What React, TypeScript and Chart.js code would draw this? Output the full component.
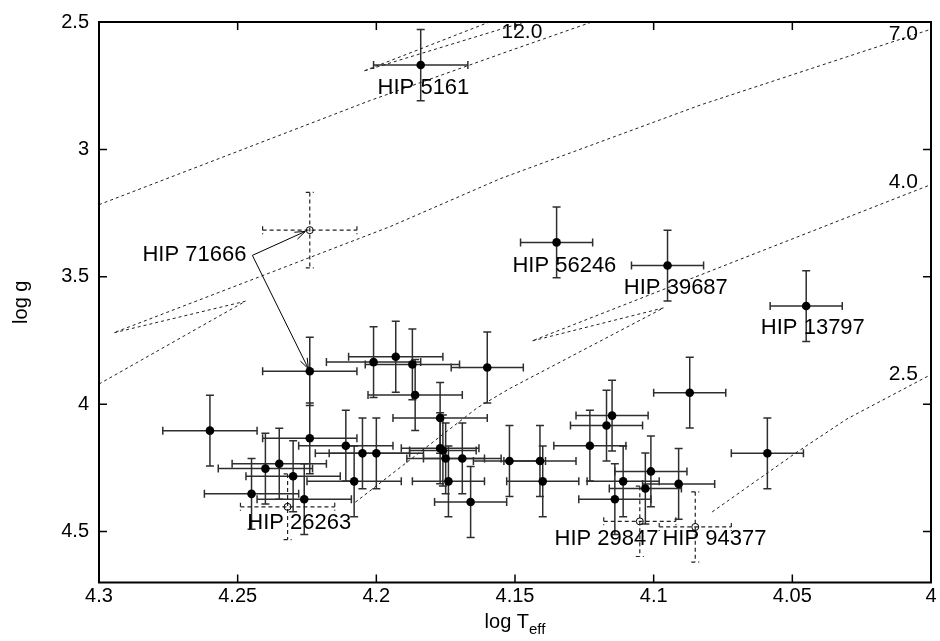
import React, { useEffect, useRef } from 'react';
import { Chart, registerables } from 'chart.js';

Chart.register(...registerables);

// ---- axes ----
const xTicks = [4.3, 4.25, 4.2, 4.15, 4.1, 4.05, 4.0];
const xTickLabels = ['4.3', '4.25', '4.2', '4.15', '4.1', '4.05', '4'];
const yTicks = [2.5, 3, 3.5, 4, 4.5];
const yTickLabels = ['2.5', '3', '3.5', '4', '4.5'];

// ---- stars with filled symbols (log Teff, log g, errors) ----
const starLogT = [
  4.184, 4.135, 4.095, 4.045, 4.224, 4.260, 4.224, 4.211, 4.205, 4.200,
  4.240, 4.235, 4.230, 4.245, 4.226, 4.208, 4.201, 4.193, 4.187, 4.186,
  4.177, 4.177, 4.176, 4.175, 4.169, 4.174, 4.166, 4.160, 4.152, 4.141,
  4.140, 4.087, 4.059, 4.115, 4.117, 4.123, 4.101, 4.111, 4.091, 4.103,
  4.114,
];
const starLogG = [
  2.669, 3.365, 3.456, 3.615, 3.871, 4.104, 4.134, 4.163, 4.193, 4.193,
  4.253, 4.234, 4.283, 4.352, 4.373, 4.303, 3.835, 3.814, 3.844, 3.964,
  4.054, 4.173, 4.182, 4.213, 4.213, 4.303, 4.384, 3.856, 4.223, 4.223,
  4.303, 3.955, 4.193, 4.045, 4.084, 4.163, 4.264, 4.303, 4.313, 4.331,
  4.373,
];
const starErrT = [
  0.017, 0.013, 0.013, 0.013, 0.017, 0.017, 0.017, 0.017, 0.017, 0.017,
  0.017, 0.017, 0.017, 0.017, 0.017, 0.017, 0.017, 0.017, 0.017, 0.017,
  0.017, 0.014, 0.012, 0.014, 0.014, 0.013, 0.013, 0.013, 0.013, 0.013,
  0.013, 0.013, 0.013, 0.013, 0.013, 0.013, 0.013, 0.013, 0.013, 0.013,
  0.013,
];
const starErrG = [
  0.14, 0.139, 0.139, 0.139, 0.134, 0.139, 0.139, 0.139, 0.139, 0.139,
  0.139, 0.139, 0.139, 0.139, 0.139, 0.139, 0.139, 0.139, 0.139, 0.139,
  0.139, 0.139, 0.139, 0.139, 0.139, 0.139, 0.139, 0.139, 0.139, 0.139,
  0.139, 0.139, 0.139, 0.139, 0.139, 0.139, 0.139, 0.139, 0.139, 0.139,
  0.139,
];

// ---- stars with open symbols ----
const openLogT = [4.224, 4.232, 4.105, 4.085];
const openLogG = [3.317, 4.403, 4.460, 4.482];
const openErrT = [0.017, 0.017, 0.013, 0.013];
const openErrG = [0.148, 0.129, 0.138, 0.138];

// ---- evolutionary tracks ----
const track12T = [4.300, 4.2022, 4.1553, 4.1228, 4.119];
const track12G = [3.217, 2.808, 2.626, 2.502, 2.488];
const track12bT = [4.143, 4.2047, 4.1585];
const track12bG = [2.488, 2.693, 2.497];
const track7T = [4.300, 4.2472, 4.2947, 4.195, 4.1553, 4.0832, 4.0002, 3.998];
const track7G = [3.921, 3.596, 3.720, 3.303, 3.115, 2.826, 2.529, 2.522];
const track4T = [4.2076, 4.1637, 4.1523, 4.0964, 4.1439, 4.0002, 3.998];
const track4G = [4.385, 4.015, 3.941, 3.622, 3.752, 3.139, 3.132];
const track25T = [4.0789, 4.0483, 4.0303, 4.0009, 3.998];
const track25G = [4.423, 4.188, 4.058, 3.889, 3.873];

const trackNames = ['12.0', '7.0', '4.0', '2.5'];
const trackNameT = [4.1475, 4.0100, 4.0100, 4.0100];
const trackNameG = [2.541, 2.549, 3.127, 3.881];

// ---- star names ----
const hipNames = ['HIP 5161', 'HIP 71666', 'HIP 56246', 'HIP 39687', 'HIP 13797', 'HIP 26263', 'HIP 29847', 'HIP 94377'];
const hipNameT = [4.1830, 4.2656, 4.1322, 4.0920, 4.0426, 4.2278, 4.1170, 4.0781];
const hipNameG = [2.760, 3.416, 3.459, 3.545, 3.700, 4.466, 4.529, 4.529];

// arrow from the HIP 71666 label to its two determinations
const arrowFromT = 4.2447;
const arrowFromG = 3.416;
const arrowToT = [4.2256, 4.2245];
const arrowToG = [3.322, 3.861];

const FONT = '"Liberation Sans", Arial, Helvetica, sans-serif';

function pts(t: number[], g: number[]) {
  return t.map((v, i) => ({ x: v, y: g[i] }));
}

function drawErrorBars(ctx: CanvasRenderingContext2D, xs: any, ys: any, t: number[], g: number[], et: number[], eg: number[], dashed: boolean) {
  ctx.save();
  ctx.strokeStyle = dashed ? '#222' : '#2e2e2e';
  ctx.lineWidth = dashed ? 1.2 : 1.5;
  ctx.setLineDash(dashed ? [4, 3] : []);
  const cap = 4;
  for (let i = 0; i < t.length; i++) {
    const px = xs.getPixelForValue(t[i]);
    const py = ys.getPixelForValue(g[i]);
    const xa = xs.getPixelForValue(t[i] + et[i]);
    const xb = xs.getPixelForValue(t[i] - et[i]);
    const ya = ys.getPixelForValue(g[i] - eg[i]);
    const yb = ys.getPixelForValue(g[i] + eg[i]);
    ctx.beginPath();
    ctx.moveTo(xa, py); ctx.lineTo(xb, py);
    ctx.moveTo(px, ya); ctx.lineTo(px, yb);
    ctx.stroke();
    ctx.beginPath();
    ctx.moveTo(xa, py - cap); ctx.lineTo(xa, py + cap);
    ctx.moveTo(xb, py - cap); ctx.lineTo(xb, py + cap);
    ctx.moveTo(px - cap, ya); ctx.lineTo(px + cap, ya);
    ctx.moveTo(px - cap, yb); ctx.lineTo(px + cap, yb);
    ctx.stroke();
  }
  ctx.restore();
}

const decorPlugin = {
  id: 'decor',
  beforeDatasetsDraw(chart: any) {
    const { ctx, chartArea: a } = chart;
    const xs = chart.scales.x, ys = chart.scales.y;
    ctx.save();
    ctx.beginPath();
    ctx.rect(a.left, a.top, a.right - a.left, a.bottom - a.top);
    ctx.clip();
    drawErrorBars(ctx, xs, ys, starLogT, starLogG, starErrT, starErrG, false);
    drawErrorBars(ctx, xs, ys, openLogT, openLogG, openErrT, openErrG, true);
    ctx.restore();
  },
  afterDatasetsDraw(chart: any) {
    const { ctx, chartArea: a } = chart;
    const xs = chart.scales.x, ys = chart.scales.y;
    ctx.save();
    ctx.fillStyle = '#000';
    ctx.textAlign = 'center';
    ctx.textBaseline = 'middle';
    ctx.font = `22px ${FONT}`;
    hipNames.forEach((n, i) => {
      ctx.fillText(n, xs.getPixelForValue(hipNameT[i]), ys.getPixelForValue(hipNameG[i]));
    });
    ctx.font = `21px ${FONT}`;
    trackNames.forEach((n, i) => {
      ctx.fillText(n, xs.getPixelForValue(trackNameT[i]), ys.getPixelForValue(trackNameG[i]));
    });

    // arrows
    ctx.strokeStyle = '#000';
    ctx.lineWidth = 1;
    const fx = xs.getPixelForValue(arrowFromT), fy = ys.getPixelForValue(arrowFromG);
    arrowToT.forEach((t, i) => {
      const tx = xs.getPixelForValue(t), ty = ys.getPixelForValue(arrowToG[i]);
      ctx.beginPath();
      ctx.moveTo(fx, fy); ctx.lineTo(tx, ty);
      const ang = Math.atan2(ty - fy, tx - fx);
      const L = 11, w = 0.35;
      ctx.moveTo(tx, ty); ctx.lineTo(tx - L * Math.cos(ang - w), ty - L * Math.sin(ang - w));
      ctx.moveTo(tx, ty); ctx.lineTo(tx - L * Math.cos(ang + w), ty - L * Math.sin(ang + w));
      ctx.stroke();
    });

    // frame
    ctx.lineWidth = 2;
    ctx.strokeRect(a.left, a.top, a.right - a.left, a.bottom - a.top);
    // inward ticks
    ctx.lineWidth = 1.5;
    ctx.beginPath();
    const tl = 8;
    xTicks.forEach((v) => {
      const p = xs.getPixelForValue(v);
      ctx.moveTo(p, a.bottom); ctx.lineTo(p, a.bottom - tl);
      ctx.moveTo(p, a.top); ctx.lineTo(p, a.top + tl);
    });
    yTicks.forEach((v) => {
      const p = ys.getPixelForValue(v);
      ctx.moveTo(a.left, p); ctx.lineTo(a.left + tl, p);
      ctx.moveTo(a.right, p); ctx.lineTo(a.right - tl, p);
    });
    ctx.stroke();

    // axis titles
    ctx.fillStyle = '#000';
    ctx.textBaseline = 'alphabetic';
    ctx.save();
    ctx.translate(27, (a.top + a.bottom) / 2);
    ctx.rotate(-Math.PI / 2);
    ctx.textAlign = 'center';
    ctx.font = `20px ${FONT}`;
    ctx.fillText('log g', 0, 0);
    ctx.restore();

    ctx.textAlign = 'left';
    ctx.font = `20px ${FONT}`;
    const main = 'log T';
    const wMain = ctx.measureText(main).width;
    ctx.font = `15px ${FONT}`;
    const sub = 'eff';
    const wSub = ctx.measureText(sub).width;
    const cx = (a.left + a.right) / 2;
    const x0 = cx - (wMain + wSub) / 2;
    const base = 628;
    ctx.font = `20px ${FONT}`;
    ctx.fillText(main, x0, base);
    ctx.font = `15px ${FONT}`;
    ctx.fillText(sub, x0 + wMain, base + 6);
    ctx.restore();
  },
};

export default function App() {
  const ref = useRef<HTMLCanvasElement | null>(null);
  useEffect(() => {
    if (!ref.current) return;
    const lineDs = (t: number[], g: number[]) => ({
      data: pts(t, g),
      showLine: true,
      borderColor: '#222',
      borderWidth: 1,
      borderDash: [3, 3],
      pointRadius: 0,
      pointHoverRadius: 0,
      fill: false,
      tension: 0,
    });
    const chart = new Chart(ref.current, {
      type: 'scatter',
      data: {
        datasets: [
          {
            data: pts(starLogT, starLogG),
            pointRadius: 4.3,
            pointBackgroundColor: '#000',
            pointBorderColor: '#000',
            pointBorderWidth: 0,
          } as any,
          {
            data: pts(openLogT, openLogG),
            pointRadius: 3.5,
            pointBackgroundColor: 'rgba(0,0,0,0)',
            pointBorderColor: '#000',
            pointBorderWidth: 1,
          } as any,
          lineDs(track12T, track12G),
          lineDs(track12bT, track12bG),
          lineDs(track7T, track7G),
          lineDs(track4T, track4G),
          lineDs(track25T, track25G),
        ],
      },
      options: {
        animation: false,
        responsive: false,
        devicePixelRatio: 1,
        layout: { padding: { left: 0, right: 9, top: 19.5, bottom: 0 } },
        plugins: { legend: { display: false }, tooltip: { enabled: false } },
        scales: {
          x: {
            type: 'linear',
            min: 4.0,
            max: 4.3,
            reverse: true,
            afterBuildTicks: (s: any) => { s.ticks = xTicks.map((v) => ({ value: v })); },
            afterFit: (s: any) => { s.height = 58.5; },
            ticks: {
              callback: (_v: any, i: number) => xTickLabels[i],
              font: { size: 20, family: FONT },
              color: '#000',
              padding: 2,
              maxRotation: 0,
              autoSkip: false,
            },
            grid: { display: false, drawTicks: false },
            border: { display: false },
          },
          y: {
            type: 'linear',
            min: 2.5,
            max: 4.7,
            reverse: true,
            afterBuildTicks: (s: any) => { s.ticks = yTicks.map((v) => ({ value: v })); },
            afterFit: (s: any) => { s.width = 99; },
            ticks: {
              callback: (_v: any, i: number) => yTickLabels[i],
              font: { size: 20, family: FONT },
              color: '#000',
              padding: 10,
              autoSkip: false,
            },
            grid: { display: false, drawTicks: false },
            border: { display: false },
          },
        },
      } as any,
      plugins: [decorPlugin],
    });
    return () => chart.destroy();
  }, []);
  return (
    <div style={{ position: 'absolute', left: 0, top: 0, width: 940, height: 641, background: '#fff' }}>
      <canvas ref={ref} width={940} height={641} style={{ display: 'block' }} />
    </div>
  );
}
